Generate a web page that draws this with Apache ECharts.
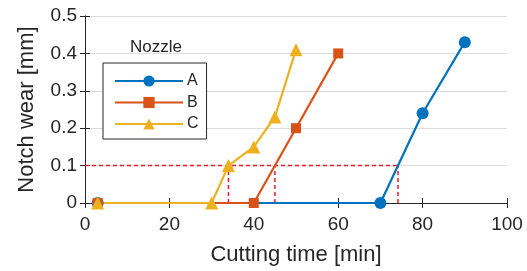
<!DOCTYPE html>
<html><head><meta charset="utf-8">
<script src="https://cdn.jsdelivr.net/npm/echarts@6/dist/echarts.min.js"></script>
<style>html,body{margin:0;padding:0;background:#fff}#c{width:527px;height:271px}</style>
</head><body><div id="c"></div>
<script>
var timeA = [3, 70, 80, 90];
var wearA = [0, 0, 0.24, 0.43];
var timeB = [3, 40, 50, 60];
var wearB = [0, 0, 0.2, 0.4];
var timeC = [3, 30, 34, 40, 45, 50];
var wearC = [0, 0, 0.1, 0.15, 0.23, 0.41];
var wearLimit = 0.1;
var limitTimes = [34, 45, 74.17];
var seriesNames = ['A', 'B', 'C'];
var xTicks = [0, 20, 40, 60, 80, 100];
var yTicks = [0, 0.1, 0.2, 0.3, 0.4, 0.5];

function pairs(xs, ys) { return xs.map(function (x, i) { return [x, ys[i]]; }); }
var font = 'Liberation Sans, Arial, sans-serif';
var txt = '#262626';
var colors = ['#0072BD', '#D95319', '#EDB120'];
var red = '#EA1C2A';

var limitSeries = [];
limitSeries.push({type: 'line', data: [[xTicks[0], wearLimit], [limitTimes[limitTimes.length - 1], wearLimit]]});
limitTimes.forEach(function (t) { limitSeries.push({type: 'line', data: [[t, yTicks[0]], [t, wearLimit]]}); });
limitSeries = limitSeries.map(function (s) {
  return Object.assign(s, {symbol: 'none', silent: true, color: red, z: 2,
    lineStyle: {color: red, type: [4, 3], width: 1.5}});
});

var chart = echarts.init(document.getElementById('c'));
var axisCommon = {
  type: 'value',
  axisLine: {show: true, lineStyle: {color: txt, width: 1}},
  axisTick: {show: true, inside: true, length: 5, lineStyle: {color: txt}},
  splitLine: {show: false}
};
chart.setOption({
  animation: false,
  textStyle: {fontFamily: font},
  grid: {left: 85, right: 20, top: 16, bottom: 68},
  legend: {
    data: seriesNames, orient: 'vertical', left: 103, top: 63,
    width: 104, itemWidth: 68, itemHeight: 14, itemGap: 5.5,
    padding: [10, 8, 7, 11],
    borderColor: txt, borderWidth: 1, backgroundColor: '#fff',
    textStyle: {fontFamily: font, fontSize: 16, color: txt, padding: [0, 0, 0, -1]}
  },
  graphic: [{type: 'text', left: 130, top: 39, style: {text: 'Nozzle', font: '17px ' + font, fill: txt}}],
  xAxis: [
    Object.assign({}, axisCommon, {
      min: 0, max: 100, interval: 20,
      name: 'Cutting time [min]', nameLocation: 'middle', nameGap: 41,
      nameTextStyle: {fontSize: 22, color: txt, fontFamily: font},
      axisLabel: {fontSize: 19, color: txt, margin: 12, fontFamily: font}
    }),
    Object.assign({}, axisCommon, {position: 'top', min: 0, max: 100, interval: 20, axisLabel: {show: false}})
  ],
  yAxis: [
    Object.assign({}, axisCommon, {
      min: 0, max: 0.5, interval: 0.1,
      name: 'Notch wear [mm]', nameLocation: 'middle', nameGap: 47,
      nameTextStyle: {fontSize: 22, color: txt, fontFamily: font},
      axisLabel: {fontSize: 19, color: txt, margin: 8, fontFamily: font},
      splitLine: {show: true, lineStyle: {color: '#DCDCDC', width: 1}}
    }),
    Object.assign({}, axisCommon, {position: 'right', min: 0, max: 0.5, interval: 0.1, axisLabel: {show: false}})
  ],
  series: limitSeries.concat([
    {name: seriesNames[0], type: 'line', data: pairs(timeA, wearA), color: colors[0], z: 3,
      symbol: 'circle', symbolSize: 12, lineStyle: {width: 2.2}, clip: false},
    {name: seriesNames[1], type: 'line', data: pairs(timeB, wearB), color: colors[1], z: 3,
      symbol: 'rect', symbolSize: 10, lineStyle: {width: 2.2}, clip: false},
    {name: seriesNames[2], type: 'line', data: pairs(timeC, wearC), color: colors[2], z: 3,
      symbol: 'triangle', symbolSize: 13, lineStyle: {width: 2.2}, clip: false}
  ])
});
</script></body></html>
